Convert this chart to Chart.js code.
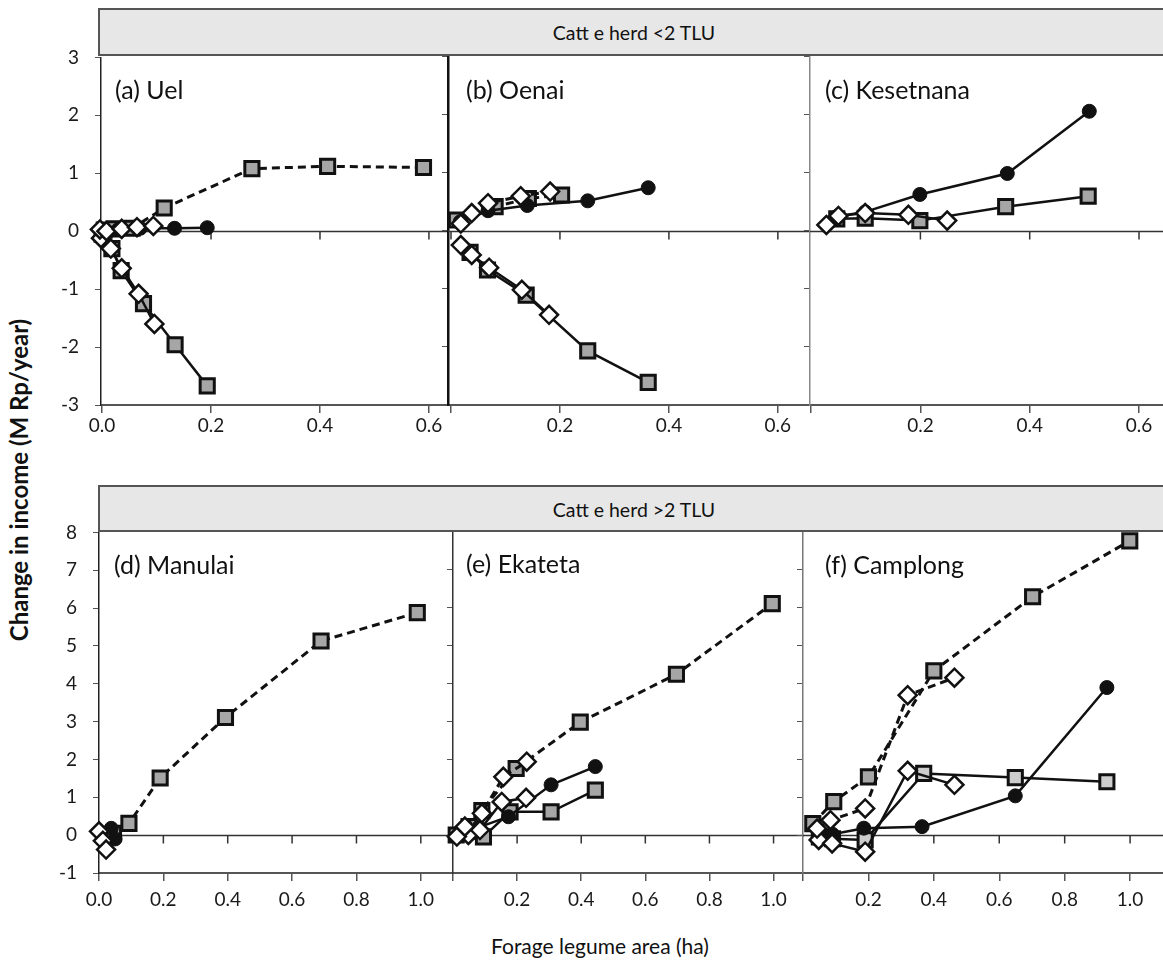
<!DOCTYPE html>
<html>
<head>
<meta charset="utf-8">
<script src="https://cdn.jsdelivr.net/npm/chart.js@4.4.1/dist/chart.umd.min.js"></script>
<style>
  html, body { margin: 0; padding: 0; background: #fff; }
  body { width: 1163px; height: 967px; position: relative; overflow: hidden; font-family: Lato, "Open Sans", sans-serif; color: #111; }
  canvas { position: absolute; }
  .strip { position: absolute; left: 98px; width: 1075px; background: #e7e7e7; border: 2px solid #555; border-right: none; box-sizing: border-box; font-size: 19.5px; }
  .strip span { position: absolute; left: 0; width: 1068px; top: 50%; transform: translateY(-50%); text-align: center; }
  .plabel { position: absolute; font-size: 25px; line-height: 30px; white-space: nowrap; }
  .ytitle { position: absolute; left: 18px; top: 480px; transform: translate(-50%, -50%) rotate(-90deg); font-size: 24px; font-weight: 700; white-space: nowrap; }
  .xtitle { position: absolute; left: 600px; top: 945px; transform: translate(-50%, -50%); font-size: 21px; white-space: nowrap; }
</style>
</head>
<body>
<canvas id="pa"></canvas>
<canvas id="pb"></canvas>
<canvas id="pc"></canvas>
<canvas id="pd"></canvas>
<canvas id="pe"></canvas>
<canvas id="pf"></canvas>

<div class="strip" style="top:8px;height:48px;"><span>Catt e herd &lt;2 TLU</span></div>
<div class="strip" style="top:485px;height:47px;"><span>Catt e herd &gt;2 TLU</span></div>

<div class="plabel" style="left:115px;top:74px;">(a) Uel</div>
<div class="plabel" style="left:466px;top:74px;">(b) Oenai</div>
<div class="plabel" style="left:825px;top:74px;">(c) Kesetnana</div>
<div class="plabel" style="left:114px;top:549px;">(d) Manulai</div>
<div class="plabel" style="left:466px;top:548px;">(e) Ekateta</div>
<div class="plabel" style="left:825px;top:549px;">(f) Camplong</div>

<div class="ytitle">Change in income (M Rp/year)</div>
<div class="xtitle">Forage legume area (ha)</div>

<script>
// ---- tick values ----
const smallHerdAreaTicks = [0, 0.2, 0.4, 0.6];
const smallHerdIncomeTicks = [-3, -2, -1, 0, 1, 2, 3];
const largeHerdAreaTicks = [0, 0.2, 0.4, 0.6, 0.8, 1.0];
const largeHerdIncomeTicks = [-1, 0, 1, 2, 3, 4, 5, 6, 7, 8];

// ---- (a) Uel : [area ha, income M Rp/year] ----
const uelDiamondsUp   = [[-0.004, 0.03], [0.008, 0.0], [0.036, 0.04], [0.064, 0.07], [0.094, 0.09]];
const uelCircles      = [[0.004, 0.0], [0.03, 0.03], [0.07, 0.05], [0.133, 0.05], [0.193, 0.06]];
const uelSquaresUp    = [[0.004, 0.02], [0.022, 0.04], [0.055, 0.05], [0.114, 0.40], [0.275, 1.08], [0.414, 1.12], [0.59, 1.10]];
const uelDiamondsDown = [[-0.002, -0.12], [0.016, -0.30], [0.036, -0.64], [0.067, -1.08], [0.096, -1.60]];
const uelSquaresDown  = [[0.0, -0.05], [0.018, -0.30], [0.035, -0.68], [0.076, -1.25], [0.134, -1.96], [0.193, -2.67]];

// ---- (b) Oenai ----
const oenaiDiamondsUp   = [[0.018, 0.12], [0.038, 0.30], [0.068, 0.47], [0.128, 0.59], [0.182, 0.67]];
const oenaiCircles      = [[0.017, 0.15], [0.068, 0.34], [0.14, 0.43], [0.251, 0.51], [0.362, 0.735]];
const oenaiSquaresUp    = [[0.01, 0.18], [0.081, 0.41], [0.142, 0.55], [0.203, 0.61]];
const oenaiDiamondsDown = [[0.018, -0.25], [0.038, -0.42], [0.07, -0.64], [0.13, -1.02], [0.18, -1.45]];
const oenaiSquaresDown  = [[0.035, -0.375], [0.067, -0.68], [0.138, -1.11], [0.251, -2.07], [0.362, -2.61]];

// ---- (c) Kesetnana ----
const kesetDiamonds = [[0.028, 0.095], [0.05, 0.25], [0.099, 0.30], [0.178, 0.27], [0.249, 0.17]];
const kesetCircles  = [[0.047, 0.24], [0.099, 0.32], [0.199, 0.62], [0.359, 0.98], [0.509, 2.05]];
const kesetSquares  = [[0.047, 0.20], [0.099, 0.21], [0.199, 0.17], [0.356, 0.41], [0.507, 0.59]];

// ---- (d) Manulai ----
const manulaiDiamonds = [[0.0, 0.10], [0.012, -0.15], [0.022, -0.38]];
const manulaiCircles  = [[0.038, 0.18], [0.05, -0.10]];
const manulaiSquares  = [[0.045, 0.05], [0.093, 0.31], [0.19, 1.51], [0.393, 3.11], [0.69, 5.13], [0.989, 5.88]];

// ---- (e) Ekateta ----
const ekatetaDiamondsUp = [[0.012, -0.04], [0.037, 0.22], [0.09, 0.57], [0.157, 1.53], [0.23, 1.93]];
const ekatetaDiamondsLo = [[0.048, 0.0], [0.084, 0.13], [0.152, 0.87], [0.228, 0.98]];
const ekatetaCircles    = [[0.03, 0.05], [0.08, 0.20], [0.173, 0.48], [0.306, 1.32], [0.444, 1.80]];
const ekatetaSquaresUp  = [[0.01, 0.0], [0.05, 0.22], [0.09, 0.64], [0.197, 1.75], [0.397, 2.97], [0.697, 4.23], [0.996, 6.09]];
const ekatetaSquaresLo  = [[0.045, 0.10], [0.095, -0.05], [0.178, 0.61], [0.306, 0.61], [0.444, 1.18]];

// ---- (f) Camplong ----
const camplongDiamondsUp = [[0.043, 0.17], [0.084, 0.39], [0.19, 0.70], [0.32, 3.68], [0.463, 4.14]];
const camplongDiamondsLo = [[0.048, -0.13], [0.089, -0.22], [0.19, -0.44], [0.32, 1.69], [0.463, 1.32]];
const camplongCircles    = [[0.05, 0.0], [0.09, 0.02], [0.186, 0.18], [0.364, 0.22], [0.649, 1.03], [0.929, 3.88]];
const camplongSquaresUp  = [[0.03, 0.30], [0.094, 0.88], [0.20, 1.53], [0.40, 4.32], [0.702, 6.27], [0.999, 7.74]];
const camplongSquaresLo  = [[0.05, -0.05], [0.09, -0.10], [0.19, -0.13], [0.369, 1.62], [0.649, 1.51], [0.929, 1.40]];

// ---- drawing ----
const FONT = 'Lato, "Open Sans", sans-serif';
const INK = '#111';

const markerStyles = {
  square:   { pointStyle: 'rect', pointRadius: 10, pointBackgroundColor: '#a6a6a6', pointBorderWidth: 3 },
  squareLt: { pointStyle: 'rect', pointRadius: 10, pointBackgroundColor: '#cdcdcd', pointBorderWidth: 3 },
  circle:   { pointStyle: 'circle', pointRadius: 7, pointBackgroundColor: INK, pointBorderWidth: 1 },
  diamond:  { pointStyle: 'rectRot', pointRadius: 9, pointBackgroundColor: '#fff', pointBorderWidth: 2.5 }
};

function series(points, marker, dashed) {
  return Object.assign({
    data: points.map(p => ({ x: p[0], y: p[1] })),
    showLine: true,
    borderColor: INK,
    pointBorderColor: INK,
    borderWidth: dashed ? 3 : 2.5,
    borderDash: dashed ? [8, 5] : [],
    fill: false,
    tension: 0,
    clip: false,
    pointHoverRadius: 0
  }, markerStyles[marker]);
}

// horizontal axis through zero with its own small tick marks
const zeroAxis = {
  id: 'zeroAxis',
  beforeDatasetsDraw(chart) {
    const { ctx, chartArea: a, scales: { x, y } } = chart;
    const py = Math.round(y.getPixelForValue(0)) + 0.5;
    ctx.save();
    ctx.strokeStyle = '#333';
    ctx.lineWidth = 1.5;
    ctx.beginPath();
    ctx.moveTo(a.left, py);
    ctx.lineTo(a.right, py);
    x.ticks.forEach(t => {
      const px = x.getPixelForValue(t.value);
      if (px > a.left + 2) { ctx.moveTo(px, py); ctx.lineTo(px, py + 8); }
    });
    ctx.stroke();
    ctx.restore();
  }
};

function panel(id, g) {
  // a labelled value axis reserves an extra 10px above the plot area for its top label
  const padTop = 16, topBand = padTop + (g.yLabels ? 10 : 0), padRight = 12, xAxisH = 40;
  const yAxisW = g.yLabels ? g.areaLeft - 40 : 10;
  const cv = document.getElementById(id);
  const w = yAxisW + (g.areaRight - g.areaLeft) + padRight;
  const h = topBand + (g.areaBottom - g.areaTop) + xAxisH;
  cv.width = w; cv.height = h;
  cv.style.left = (g.areaLeft - yAxisW) + 'px';
  cv.style.top = (g.areaTop - topBand) + 'px';
  cv.style.width = w + 'px'; cv.style.height = h + 'px';

  new Chart(cv, {
    type: 'scatter',
    data: { datasets: g.datasets },
    plugins: [zeroAxis],
    options: {
      responsive: false,
      animation: false,
      devicePixelRatio: 1,
      layout: { autoPadding: false, padding: { top: padTop, right: padRight, left: 0, bottom: 0 } },
      plugins: { legend: { display: false }, tooltip: { enabled: false } },
      scales: {
        x: {
          type: 'linear', min: g.xMin, max: g.xMax,
          afterFit: s => { s.height = xAxisH; },
          afterBuildTicks: s => { s.ticks = g.xTicks.map(v => ({ value: v })); },
          border: { display: true, color: '#555', width: 2 },
          grid: { display: true, drawOnChartArea: false, drawTicks: true, tickLength: 8, color: '#555', lineWidth: 1.5 },
          ticks: {
            autoSkip: false, maxRotation: 0, minRotation: 0, padding: g.xPad,
            color: '#1a1a1a', font: { family: FONT, size: 19 },
            callback: v => (g.hideZero && Math.abs(v) < 1e-9) ? '' : Number(v).toFixed(1)
          }
        },
        y: {
          type: 'linear', min: g.yMin, max: g.yMax,
          afterFit: s => { s.width = yAxisW; },
          afterBuildTicks: s => { s.ticks = g.yTicks.map(v => ({ value: v })); },
          border: { display: true, color: g.yColor, width: g.yWidth },
          grid: { display: true, drawOnChartArea: false, drawTicks: true, tickLength: 6, color: '#555', lineWidth: 1 },
          ticks: {
            display: !!g.yLabels, padding: 16,
            color: '#1a1a1a', font: { family: FONT, size: 19 },
            callback: v => String(v)
          }
        }
      }
    }
  });
}

const topRow = { areaTop: 56, areaBottom: 405, yMin: -3, yMax: 3, yTicks: smallHerdIncomeTicks, xTicks: smallHerdAreaTicks, xPad: 1 };
const bottomRow = { areaTop: 531, areaBottom: 873, yMin: -1, yMax: 8, yTicks: largeHerdIncomeTicks, xTicks: largeHerdAreaTicks, xPad: 7 };

panel('pa', Object.assign({}, topRow, {
  areaLeft: 101, areaRight: 448, xMin: -0.002, xMax: 0.635, yLabels: true, yColor: '#222', yWidth: 1.5,
  datasets: [
    series(uelDiamondsUp, 'diamond', true),
    series(uelDiamondsDown, 'diamond', false),
    series(uelCircles, 'circle', false),
    series(uelSquaresUp, 'square', true),
    series(uelSquaresDown, 'square', false)
  ]
}));

panel('pb', Object.assign({}, topRow, {
  areaLeft: 448, areaRight: 810, xMin: -0.0055, xMax: 0.659, hideZero: true, yColor: '#111', yWidth: 2.5,
  datasets: [
    series(oenaiDiamondsUp, 'diamond', true),
    series(oenaiDiamondsDown, 'diamond', false),
    series(oenaiCircles, 'circle', false),
    series(oenaiSquaresUp, 'square', true),
    series(oenaiSquaresDown, 'square', false)
  ]
}));

panel('pc', Object.assign({}, topRow, {
  areaLeft: 810, areaRight: 1170, xMin: -0.002, xMax: 0.6567, hideZero: true, yColor: '#888', yWidth: 1.5,
  datasets: [
    series(kesetDiamonds, 'diamond', false),
    series(kesetCircles, 'circle', false),
    series(kesetSquares, 'square', false)
  ]
}));

panel('pd', Object.assign({}, bottomRow, {
  areaLeft: 99, areaRight: 453, xMin: 0, xMax: 1.10, yLabels: true, yColor: '#222', yWidth: 1.5,
  datasets: [
    series(manulaiDiamonds, 'diamond', false),
    series(manulaiCircles, 'circle', false),
    series(manulaiSquares, 'square', true)
  ]
}));

panel('pe', Object.assign({}, bottomRow, {
  areaLeft: 453, areaRight: 804, xMin: 0, xMax: 1.095, hideZero: true, yColor: '#333', yWidth: 1.5,
  datasets: [
    series(ekatetaDiamondsUp, 'diamond', true),
    series(ekatetaDiamondsLo, 'diamond', false),
    series(ekatetaCircles, 'circle', false),
    series(ekatetaSquaresUp, 'square', true),
    series(ekatetaSquaresLo, 'square', false)
  ]
}));

panel('pf', Object.assign({}, bottomRow, {
  areaLeft: 803, areaRight: 1170, xMin: 0, xMax: 1.122, hideZero: true, yColor: '#777', yWidth: 1.5,
  datasets: [
    series(camplongDiamondsUp, 'diamond', true),
    series(camplongDiamondsLo, 'diamond', false),
    series(camplongCircles, 'circle', false),
    series(camplongSquaresUp, 'square', true),
    series(camplongSquaresLo, 'squareLt', false)
  ]
}));
</script>
</body>
</html>
